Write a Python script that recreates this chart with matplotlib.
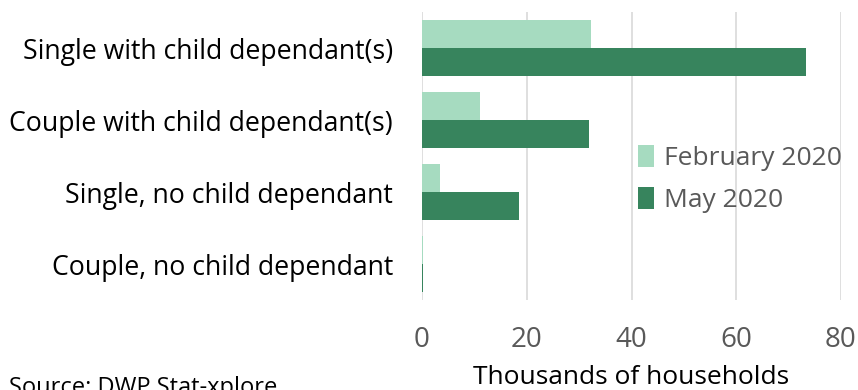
import matplotlib
matplotlib.use("Agg")
import matplotlib.pyplot as plt
import numpy as np

plt.rcParams['font.family'] = ['Open Sans', 'DejaVu Sans']

categories = ["Single with child dependant(s)", "Couple with child dependant(s)",
              "Single, no child dependant", "Couple, no child dependant"]
feb_2020 = [32.2, 11.1, 3.5, 0.2]
may_2020 = [73.4, 31.9, 18.5, 0.2]
series_names = ["February 2020", "May 2020"]
xticks = [0, 20, 40, 60, 80]

c_feb = "#A6DBC0"
c_may = "#37845D"

fig = plt.figure(figsize=(8.58, 3.90), dpi=100)
ax = fig.add_axes([422/858, 1-300/390, (841-422)/858, 288/390])

y = np.arange(len(categories))
h = 0.395
ax.barh(y - h/2, feb_2020, height=h, color=c_feb, label=series_names[0], zorder=3)
ax.barh(y + h/2, may_2020, height=h, color=c_may, label=series_names[1], zorder=3)

ax.set_ylim(len(categories) - 0.5, -0.5)
ax.set_xlim(0, 80)
ax.set_xticks(xticks)
ax.set_xticklabels([str(t) for t in xticks])
ax.set_yticks(y)
ax.set_yticklabels(categories, fontsize=19.2, color="black")
ax.tick_params(axis='y', length=0, pad=21)
ax.tick_params(axis='x', length=0, pad=19, labelsize=20, labelcolor="#595959")
ax.grid(axis='x', color="#D9D9D9", linewidth=1.2, zorder=0)
for s in ax.spines.values():
    s.set_visible(False)

ax.set_xlabel("Thousands of households", fontsize=19, color="black", labelpad=8)

leg = ax.legend(loc='center left', bbox_to_anchor=(0.49, 0.42), frameon=False,
                fontsize=19, handlelength=0.6, handleheight=0.9, handletextpad=0.4,
                labelspacing=0.62, borderaxespad=0)
for t in leg.get_texts():
    t.set_color("#595959")

fig.text(0.01, -4/390, "Source: DWP Stat-xplore", fontsize=17, color="black",
         ha='left', va='baseline')

fig.savefig("out.png", dpi=100)
